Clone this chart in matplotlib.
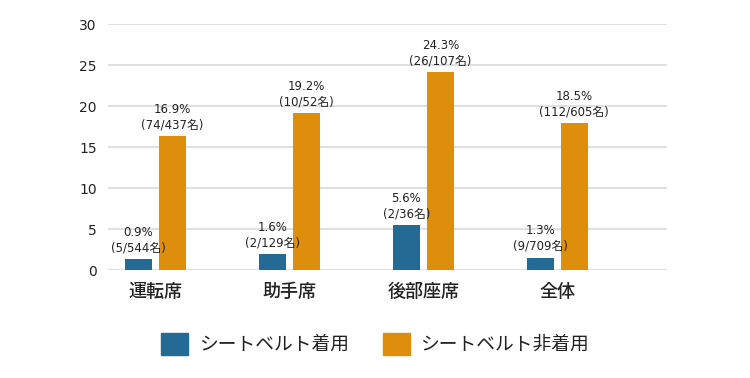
import matplotlib
matplotlib.use("Agg")
import matplotlib.pyplot as plt
from matplotlib.patches import Patch
import numpy as np

plt.rcParams['font.family'] = ['DejaVu Sans', 'Noto Sans CJK JP']

# データ（棒の高さは図から読み取り、ラベルは図中の表記）
categories = ["運転席", "助手席", "後部座席", "全体"]
series_names = ["シートベルト着用", "シートベルト非着用"]
worn = [1.3, 1.9, 5.5, 1.5]
not_worn = [16.3, 19.1, 24.1, 17.9]
worn_labels = ["0.9%\n(5/544名)", "1.6%\n(2/129名)", "5.6%\n(2/36名)", "1.3%\n(9/709名)"]
not_worn_labels = ["16.9%\n(74/437名)", "19.2%\n(10/52名)", "24.3%\n(26/107名)", "18.5%\n(112/605名)"]
y_ticks = [0, 5, 10, 15, 20, 25, 30]

BLUE = "#236a94"
ORANGE = "#de8e0b"

fig = plt.figure(figsize=(7.5, 3.78), dpi=100)
ax = fig.add_axes([0.144, 0.2857, 0.745, 0.6508])

x = np.arange(len(categories))
w = 0.2
off = 0.127

b1 = ax.bar(x - off, worn, width=w, color=BLUE, zorder=3)
b2 = ax.bar(x + off, not_worn, width=w, color=ORANGE, zorder=3)

# 棒の上のラベル
for bars, labels in [(b1, worn_labels), (b2, not_worn_labels)]:
    for bar, lab in zip(bars, labels):
        ax.annotate(lab, (bar.get_x() + bar.get_width() / 2, bar.get_height()),
                    xytext=(0, 3.5), textcoords="offset points",
                    ha="center", va="bottom", fontsize=8.5, color="#222222",
                    linespacing=1.25)

ax.set_xlim(-0.354, 3.817)
ax.set_ylim(0, 30)
ax.set_yticks(y_ticks)
ax.set_xticks(x)
ax.set_xticklabels(categories, fontsize=13, fontweight="medium", color="#222222",
                   family=["Noto Sans CJK JP", "DejaVu Sans"])
ax.tick_params(axis="y", length=0, pad=8, labelsize=10, labelcolor="#222222")
ax.tick_params(axis="x", length=0, pad=9)
ax.grid(axis="y", color="#e0e0e0", linewidth=1.5, zorder=0)
ax.set_axisbelow(True)
for s in ax.spines.values():
    s.set_visible(False)

handles = [Patch(color=BLUE), Patch(color=ORANGE)]
fig.legend(handles, series_names, loc="center", bbox_to_anchor=(0.5, 0.09),
           ncol=2, frameon=False, fontsize=13.5, handlelength=1.45, handleheight=1.45,
           handletextpad=0.55, columnspacing=1.8, labelcolor="#222222",
           prop={"family": ["Noto Sans CJK JP", "DejaVu Sans"], "size": 13.5})

fig.savefig("out.png", dpi=100)
